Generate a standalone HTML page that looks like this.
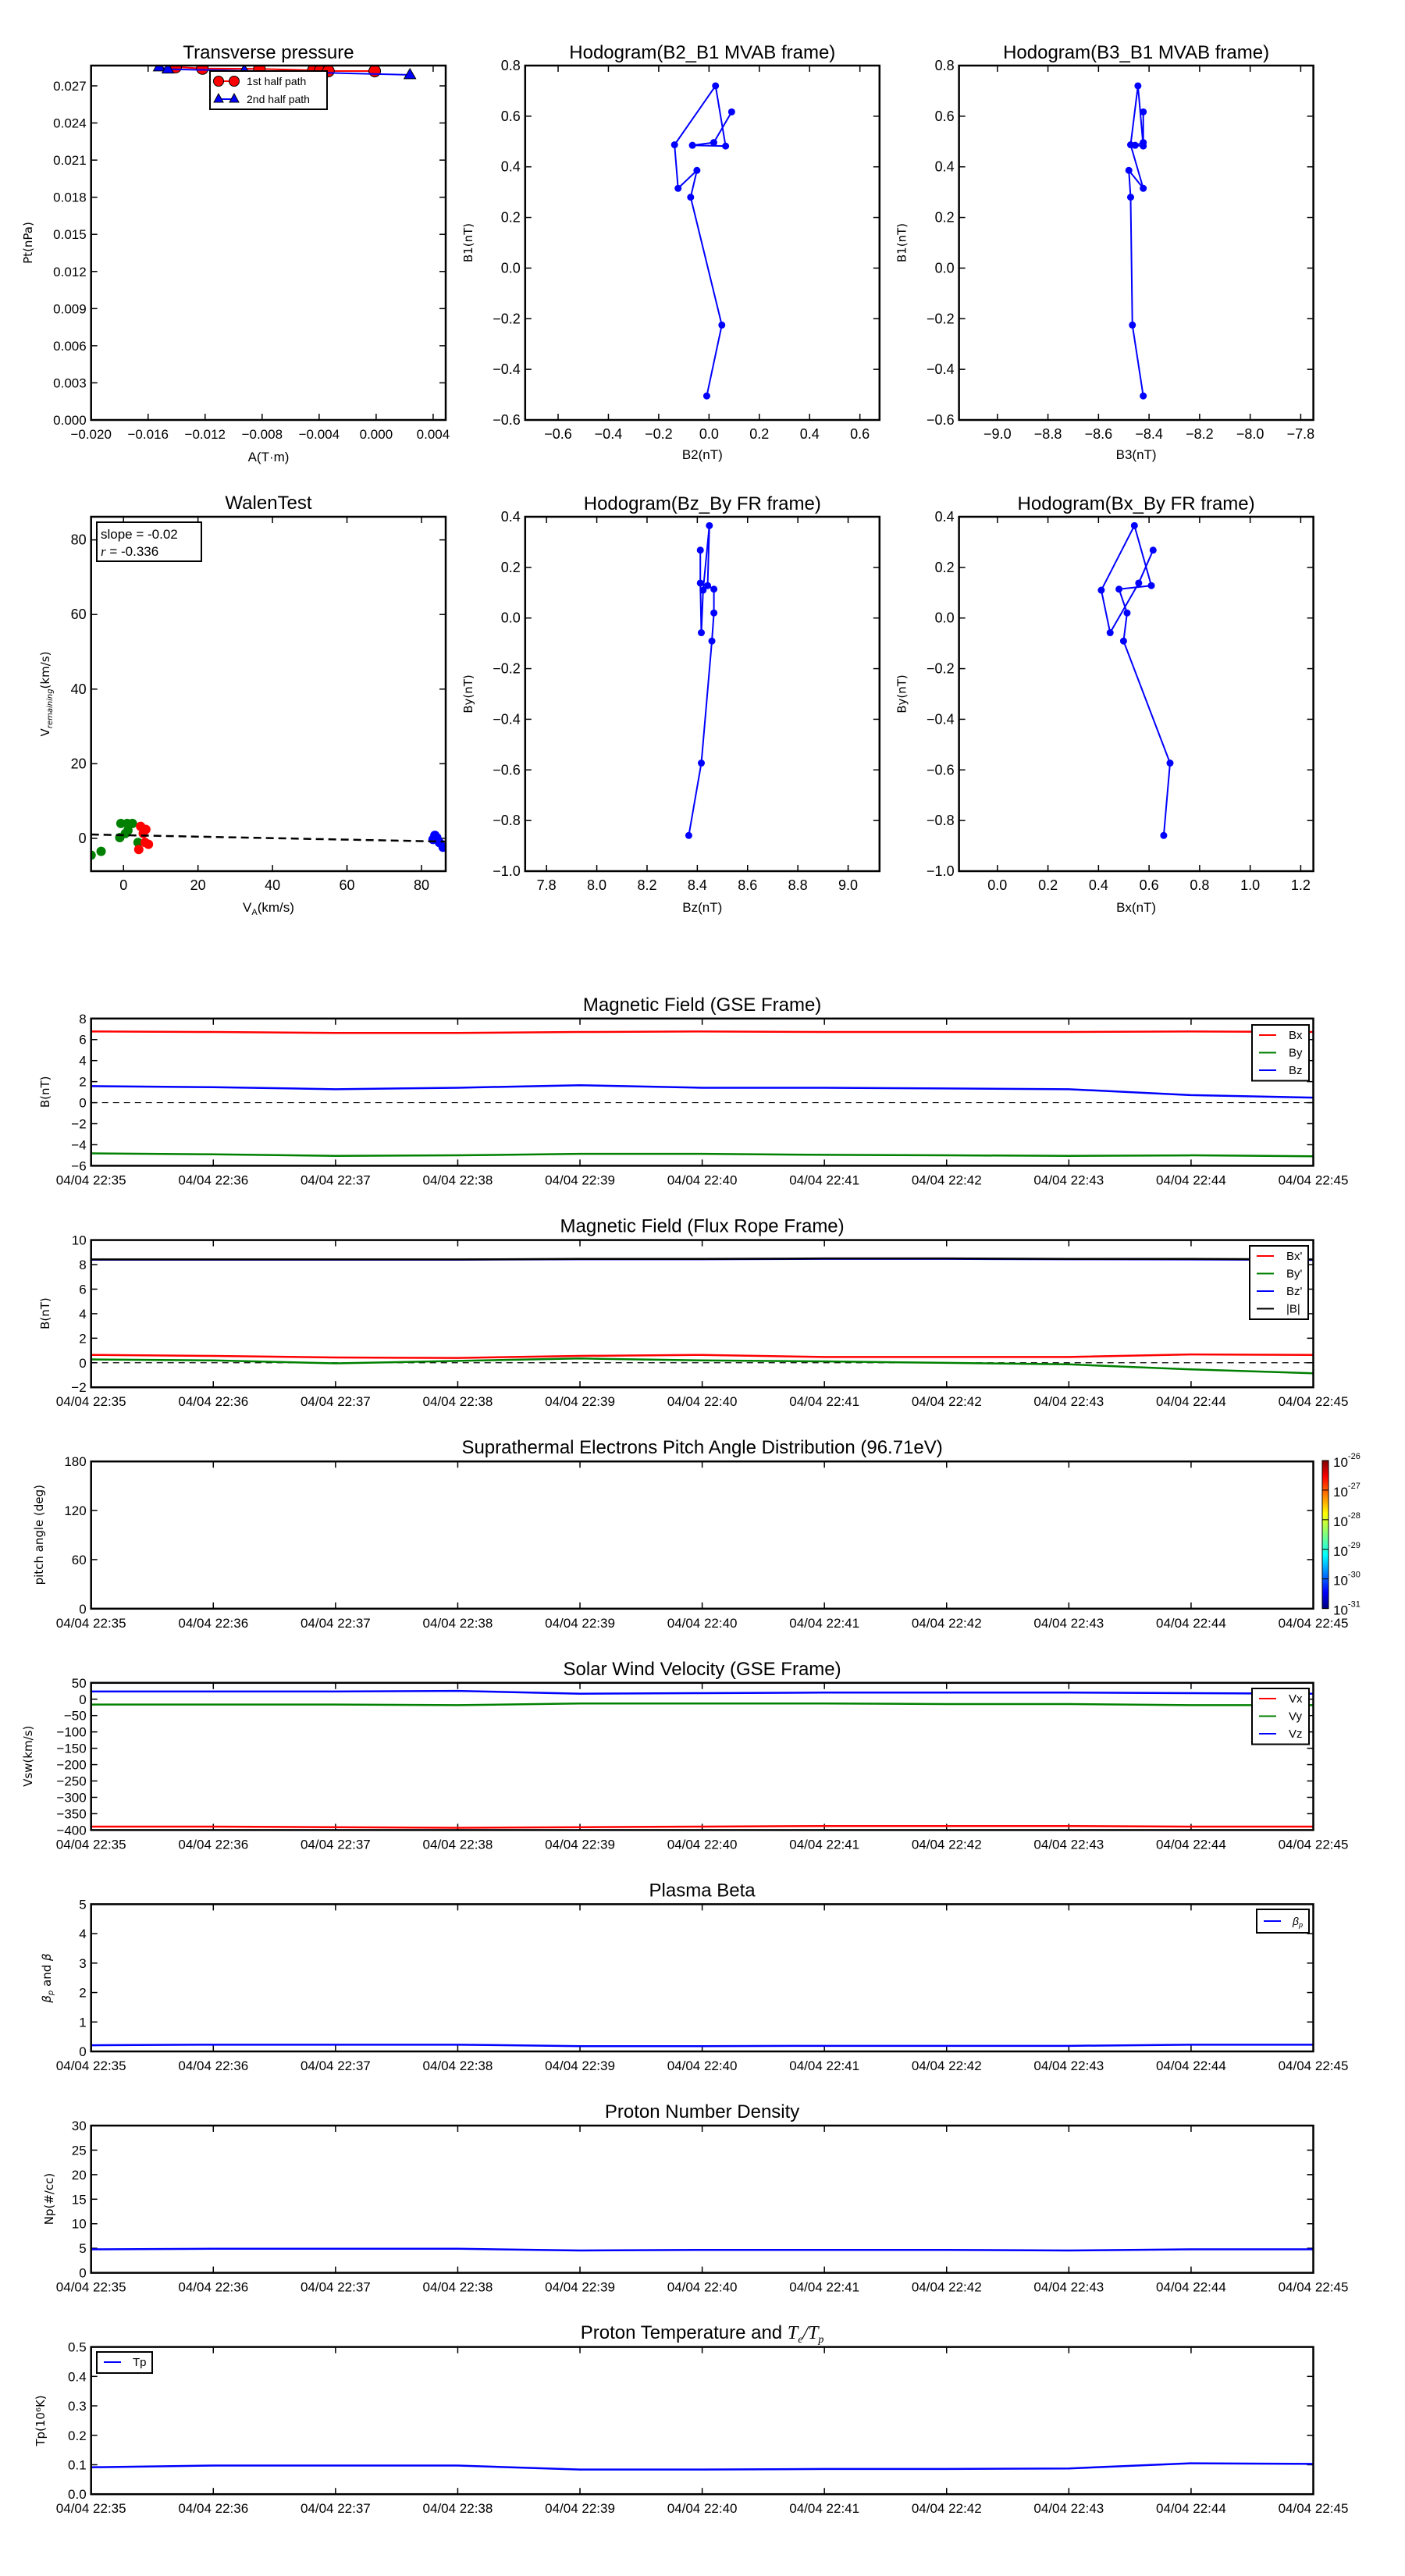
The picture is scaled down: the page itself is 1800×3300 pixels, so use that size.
<!DOCTYPE html>
<html><head><meta charset="utf-8">
<style>
html,body{margin:0;padding:0;background:#fff;}
svg{display:block;}
text{font-family:"Liberation Sans","DejaVu Sans",sans-serif;fill:#000;}
.yl{font-family:"DejaVu Sans","Liberation Sans",sans-serif;font-size:15px;}
</style></head>
<body>
<svg id="fig" width="1800" height="3300" viewBox="0 0 1800 3300" xmlns="http://www.w3.org/2000/svg">
<defs>
<linearGradient id="jet" x1="0" y1="1" x2="0" y2="0">
<stop offset="0" stop-color="#00007f"/><stop offset="0.11" stop-color="#0000ff"/><stop offset="0.36" stop-color="#00ffff"/><stop offset="0.5" stop-color="#7fff7f"/><stop offset="0.64" stop-color="#ffff00"/><stop offset="0.89" stop-color="#ff0000"/><stop offset="1" stop-color="#7f0000"/>
</linearGradient>
</defs>
</svg>
<script>
// ---------- data ----------
const tpRedA=[-0.01407,-0.01219,-0.00819,-0.00440,-0.00394,-0.00335,-0.00010];
const tpRedP=[0.02852,0.02840,0.02837,0.02826,0.02822,0.02820,0.02820];
const tpBlueA=[-0.01522,-0.01461,-0.00925,0.00237];
const tpBlueP=[0.02852,0.02835,0.02822,0.02789];

const mvB2=[-0.009,0.051,-0.073,-0.048,-0.123,-0.137,0.026,0.066,-0.066,0.019,0.090];
const mvB1=[-0.505,-0.225,0.280,0.386,0.315,0.487,0.720,0.482,0.485,0.496,0.617];
const mvB3=[-8.423,-8.466,-8.473,-8.480,-8.423,-8.473,-8.444,-8.423,-8.455,-8.423,-8.423];

const frBy=[-0.859,-0.573,-0.091,0.020,0.114,0.128,0.365,0.110,-0.058,0.138,0.268];
const frBx=[0.658,0.683,0.499,0.513,0.481,0.609,0.542,0.411,0.446,0.559,0.616];
const frBz=[8.366,8.416,8.458,8.466,8.466,8.441,8.448,8.423,8.416,8.412,8.412];

const walenGreenX=[-0.7,1.0,2.4,-1.0,0.5,1.2,-6.0,-8.7,3.9];
const walenGreenY=[4.0,4.0,4.0,0.2,1.3,2.1,-3.5,-4.5,-1.1];
const walenRedX=[4.6,6.0,5.3,6.7,4.1,5.8];
const walenRedY=[3.2,2.4,1.3,-1.6,-3.0,-1.1];
const walenBlueX=[83.6,84.1,84.8,85.8,83.1];
const walenBlueY=[0.8,0.2,-1.1,-2.4,-0.3];
const walenSlope=-0.02, walenIntercept=0.85;

const timeLabels=['04/04 22:35','04/04 22:36','04/04 22:37','04/04 22:38','04/04 22:39','04/04 22:40','04/04 22:41','04/04 22:42','04/04 22:43','04/04 22:44','04/04 22:45'];
const minutes=[0,1,2,3,4,5,6,7,8,9,10];
const gseBx=[6.77,6.72,6.63,6.63,6.72,6.77,6.72,6.72,6.72,6.77,6.72];
const gseBy=[-4.82,-4.91,-5.06,-5.01,-4.87,-4.87,-4.96,-5.01,-5.06,-5.01,-5.10];
const gseBz=[1.57,1.47,1.28,1.42,1.66,1.42,1.42,1.35,1.28,0.72,0.48];
const frTBx=[0.64,0.56,0.43,0.39,0.56,0.64,0.47,0.47,0.47,0.68,0.64];
const frTBy=[0.27,0.19,-0.05,0.15,0.35,0.19,0.11,-0.01,-0.13,-0.54,-0.86];
const frTBz=[8.40,8.40,8.40,8.40,8.44,8.44,8.47,8.47,8.44,8.42,8.38];
const frTBt=[8.42,8.42,8.42,8.42,8.46,8.46,8.50,8.50,8.46,8.46,8.42];
const swVx=[-389.5,-389.5,-391.3,-393.0,-391.3,-389.5,-387.7,-387.7,-387.7,-389.5,-389.5];
const swVy=[-16.5,-16.5,-16.5,-18.3,-13.0,-13.0,-13.0,-14.8,-14.8,-18.3,-18.3];
const swVz=[23.7,23.7,23.7,25.5,16.7,18.5,20.2,20.2,20.2,18.5,16.7];
const betaP=[0.21,0.23,0.23,0.23,0.18,0.18,0.19,0.19,0.19,0.23,0.23];
const npVals=[4.79,4.90,4.90,4.90,4.55,4.67,4.67,4.67,4.55,4.79,4.79];
const tpVals=[0.0914,0.0973,0.0973,0.0973,0.0837,0.0837,0.0856,0.0856,0.0875,0.105,0.103];
const cbarLabels=['-26','-27','-28','-29','-30','-31'];

// ---------- helpers ----------
const NS='http://www.w3.org/2000/svg';
const svg=document.getElementById('fig');
function mk(tag,attrs,name,parent){
  const e=document.createElementNS(NS,tag);
  for(const k in attrs) e.setAttribute(k,attrs[k]);
  
  
  (parent||svg).appendChild(e);
  return e;
}
function txt(x,y,s,size,anchor,name,extra){
  const a=Object.assign({x:x,y:y,'font-size':size,'text-anchor':anchor||'middle'},extra||{});
  const t=mk('text',a,name);
  t.textContent=s;
  return t;
}
function fmt(v,d){const s=Math.abs(v).toFixed(d);return (v<-1e-12?'\u2212':'')+s;}
function axes(o){
  const g=mk('g',{},o.name);
  const sx=v=>o.x+(v-o.xmin)/(o.xmax-o.xmin)*o.w;
  const sy=v=>o.y+o.h-(v-o.ymin)/(o.ymax-o.ymin)*o.h;
  o.sx=sx;o.sy=sy;o.g=g;
  const tl=8;
  o.xticks.forEach((v,i)=>{
    const px=sx(v);
    mk('line',{x1:px,y1:o.y+o.h,x2:px,y2:o.y+o.h-tl,stroke:'#000','stroke-width':1.5},'x-tick',g);
    mk('line',{x1:px,y1:o.y,x2:px,y2:o.y+tl,stroke:'#000','stroke-width':1.5},'x-tick-top',g);
    const t=txt(px,o.y+o.h+24,o.xlab[i],o.fs||18,'middle','x-tick-label');
  });
  o.yticks.forEach((v,i)=>{
    const py=sy(v);
    mk('line',{x1:o.x,y1:py,x2:o.x+tl,y2:py,stroke:'#000','stroke-width':1.5},'y-tick',g);
    mk('line',{x1:o.x+o.w,y1:py,x2:o.x+o.w-tl,y2:py,stroke:'#000','stroke-width':1.5},'y-tick-right',g);
    txt(o.x-6,py+6,o.ylab[i],o.fs||18,'end','y-tick-label');
  });
  return o;
}
function frame(o){mk('rect',{x:o.x,y:o.y,width:o.w,height:o.h,fill:'none',stroke:'#000','stroke-width':2.5},'axes-frame');}
function clip(o,id){
  const cp=mk('clipPath',{id:id},'clip');
  mk('rect',{x:o.x,y:o.y,width:o.w,height:o.h},'clip-rect',cp);
  return 'url(#'+id+')';
}
function poly(o,xs,ys,color,w,name,cl){
  const pts=xs.map((x,i)=>o.sx(x).toFixed(2)+','+o.sy(ys[i]).toFixed(2)).join(' ');
  return mk('polyline',{points:pts,fill:'none',stroke:color,'stroke-width':w,'stroke-linejoin':'round','clip-path':cl||''},name);
}
function dots(o,xs,ys,color,r,name,cl){
  xs.forEach((x,i)=>{mk('circle',{cx:o.sx(x),cy:o.sy(ys[i]),r:r,fill:color,'clip-path':cl||''},name);});
}
function range(a,b,s){const r=[];for(let v=a;v<=b+1e-9;v+=s)r.push(+v.toFixed(6));return r;}
function ylabel(x,y,s,name){const t=mk('text',{x:x,y:y,'font-size':15,'text-anchor':'middle',class:'yl',transform:'rotate(-90 '+x+' '+y+')'},name);t.textContent=s;return t;}

// ---------- Transverse pressure ----------
(function(){
  const xt=range(-0.020,0.004,0.004), yt=range(0,0.027,0.003);
  const o=axes({name:'transverse-pressure-plot',x:116.7,y:84,w:454.3,h:454,xmin:-0.020,xmax:0.00488,ymin:0,ymax:0.02864,
    xticks:xt,xlab:xt.map(v=>fmt(v,3)),yticks:yt,ylab:yt.map(v=>fmt(v,3)),fs:17});
  const cl=clip(o,'c1');
  poly(o,tpRedA,tpRedP,'#ff0000',2,'first-half-path-line',cl);
  tpRedA.forEach((a,i)=>mk('circle',{cx:o.sx(a),cy:o.sy(tpRedP[i]),r:7.5,fill:'#ff0000',stroke:'#000','stroke-width':1,'clip-path':cl},'first-half-marker'));
  poly(o,tpBlueA,tpBlueP,'#0000ff',2,'second-half-path-line',cl);
  tpBlueA.forEach((a,i)=>{const x=o.sx(a),y=o.sy(tpBlueP[i]);mk('polygon',{points:(x)+','+(y-8)+' '+(x-7.5)+','+(y+5)+' '+(x+7.5)+','+(y+5),fill:'#0000ff',stroke:'#000','stroke-width':1,'clip-path':cl},'second-half-marker');});
  frame(o);
  txt(344,75,'Transverse pressure',24,'middle','transverse-pressure-title');
  txt(344,591,'A(T\u00b7m)',17,'middle','x-axis-title');
  ylabel(41,311,'Pt(nPa)','y-axis-title');
  const lg=mk('g',{},'legend');
  mk('rect',{x:269,y:91,width:150,height:49,fill:'#fff',stroke:'#000','stroke-width':2},'legend-box',lg);
  mk('line',{x1:280,y1:104,x2:300,y2:104,stroke:'#ff0000','stroke-width':2},'legend-line',lg);
  mk('circle',{cx:280,cy:104,r:6.5,fill:'#ff0000',stroke:'#000'},'legend-marker',lg);
  mk('circle',{cx:300,cy:104,r:6.5,fill:'#ff0000',stroke:'#000'},'legend-marker',lg);
  txt(316,109,'1st half path',14,'start','legend-entry-1st');
  mk('line',{x1:280,y1:127,x2:300,y2:127,stroke:'#0000ff','stroke-width':2},'legend-line',lg);
  mk('polygon',{points:'280,120 274,131 286,131',fill:'#0000ff',stroke:'#000'},'legend-marker',lg);
  mk('polygon',{points:'300,120 294,131 306,131',fill:'#0000ff',stroke:'#000'},'legend-marker',lg);
  txt(316,132,'2nd half path',14,'start','legend-entry-2nd');
})();

// ---------- Hodograms ----------
function hodo(name,x0,y0,xmin,xmax,ymin,ymax,xt,yt,xs,ys,title,xl,yl,id,yTitleY,xTitleY){
  const o=axes({name:name,x:x0,y:y0,w:454,h:454,xmin:xmin,xmax:xmax,ymin:ymin,ymax:ymax,
    xticks:xt,xlab:xt.map(v=>fmt(v,1)),yticks:yt,ylab:yt.map(v=>fmt(v,1))});
  const cl=clip(o,id);
  poly(o,xs,ys,'#0000ff',2,'hodogram-path',cl);
  dots(o,xs,ys,'#0000ff',4.5,'hodogram-point',cl);
  frame(o);
  txt(x0+227,y0-9,title,24,'middle','plot-title');
  txt(x0+227,xTitleY,xl,17,'middle','x-axis-title');
  ylabel(x0-68,y0+227,yl,'y-axis-title');
}
const t02=range(-0.6,0.6,0.2), b1t=range(-0.6,0.8,0.2);
hodo('hodogram-b2-b1',672.8,84,-0.731,0.678,-0.6,0.8,t02,b1t,mvB2,mvB1,'Hodogram(B2_B1 MVAB frame)','B2(nT)','B1(nT)','c2',0,588);
hodo('hodogram-b3-b1',1228.6,84,-9.152,-7.75,-0.6,0.8,range(-9.0,-7.8,0.2),b1t,mvB3,mvB1,'Hodogram(B3_B1 MVAB frame)','B3(nT)','B1(nT)','c3',0,588);
const byt=range(-1.0,0.4,0.2);
hodo('hodogram-bz-by',672.8,662,7.715,9.125,-1.0,0.4,range(7.8,9.0,0.2),byt,frBz,frBy,'Hodogram(Bz_By FR frame)','Bz(nT)','By(nT)','c4',0,1168);
hodo('hodogram-bx-by',1228.6,662,-0.152,1.25,-1.0,0.4,range(0,1.2,0.2),byt,frBx,frBy,'Hodogram(Bx_By FR frame)','Bx(nT)','By(nT)','c5',0,1168);

// ---------- Walen test ----------
(function(){
  const t=[0,20,40,60,80];
  const o=axes({name:'walen-test-plot',x:116.7,y:662,w:454.3,h:454,xmin:-8.7,xmax:86.5,ymin:-8.8,ymax:86.2,
    xticks:t,xlab:t.map(String),yticks:t,ylab:t.map(String)});
  const cl=clip(o,'c6');
  dots(o,walenGreenX,walenGreenY,'#008000',6,'walen-point-green',cl);
  dots(o,walenRedX,walenRedY,'#ff0000',6,'walen-point-red',cl);
  dots(o,walenBlueX,walenBlueY,'#0000ff',6,'walen-point-blue',cl);
  const fx=[o.xmin,o.xmax];
  poly(o,fx,fx.map(v=>walenSlope*v+walenIntercept),'#000',2.5,'fit-line',cl).setAttribute('stroke-dasharray','10,6');
  frame(o);
  txt(344,652,'WalenTest',24,'middle','walen-title');
  const vx=mk('text',{x:344,y:1168,'font-size':17,'text-anchor':'middle'},'x-axis-title');vx.innerHTML='V<tspan font-size="11" dy="4">A</tspan><tspan dy="-4">(km/s)</tspan>';
  const vy=mk('text',{x:63,y:889,'font-size':15,'text-anchor':'middle',class:'yl',transform:'rotate(-90 63 889)'},'y-axis-title');vy.innerHTML='V<tspan font-size="10" dy="4" font-style="italic">remaining</tspan><tspan dy="-4">(km/s)</tspan>';
  mk('rect',{x:124,y:669,width:134,height:50,fill:'#fff',stroke:'#000','stroke-width':2},'walen-legend-box');
  txt(129,690,'slope = -0.02',17,'start','slope-label');
  const r=mk('text',{x:129,y:712,'font-size':17},'r-label');r.innerHTML='<tspan font-style="italic" font-family="Liberation Serif">r</tspan> = -0.336';
})();

// ---------- Time series ----------
function ts(name,top,ymin,ymax,yt,ylabFn,title,ylab,ylabX,id){
  const o=axes({name:name,x:116.7,y:top,w:1565.8,h:188.6,xmin:0,xmax:10,ymin:ymin,ymax:ymax,
    xticks:minutes,xlab:timeLabels,yticks:yt,ylab:yt.map(ylabFn),fs:17});
  o.cl=clip(o,id);
  txt(899.6,top-10,title,24,'middle','plot-title');
  if(ylab) ylabel(ylabX,top+94,ylab,'y-axis-title');
  return o;
}
function legend(x,y,w,entries,name){
  const g=mk('g',{},name);
  mk('rect',{x:x,y:y,width:w,height:entries.length*22.5+4,fill:'#fff',stroke:'#000','stroke-width':2},'legend-box',g);
  entries.forEach((e,i)=>{
    const cy=y+13+i*22.5;
    mk('line',{x1:x+9,y1:cy,x2:x+31,y2:cy,stroke:e[1],'stroke-width':2},'legend-line',g);
    txt(x+47,cy+5,e[0],15,'start','legend-entry');
  });
}
(function(){
  const o=ts('gse-field-plot',1304.8,-6,8,range(-6,8,2),v=>fmt(v,0),'Magnetic Field (GSE Frame)','B(nT)',63,'t1');
  poly(o,[0,10],[0,0],'#000',1.2,'zero-line',o.cl).setAttribute('stroke-dasharray','8,6');
  poly(o,minutes,gseBx,'#ff0000',2.5,'bx-line',o.cl);
  poly(o,minutes,gseBy,'#008000',2.5,'by-line',o.cl);
  poly(o,minutes,gseBz,'#0000ff',2.5,'bz-line',o.cl);
  frame(o);
  legend(1604,1313,73,[['Bx','#ff0000'],['By','#008000'],['Bz','#0000ff']],'gse-legend');
})();
(function(){
  const o=ts('flux-rope-field-plot',1588.6,-2,10,range(-2,10,2),v=>fmt(v,0),'Magnetic Field (Flux Rope Frame)','B(nT)',63,'t2');
  poly(o,[0,10],[0,0],'#000',1.2,'zero-line',o.cl).setAttribute('stroke-dasharray','8,6');
  poly(o,minutes,frTBx,'#ff0000',2.5,'bx-prime-line',o.cl);
  poly(o,minutes,frTBy,'#008000',2.5,'by-prime-line',o.cl);
  poly(o,minutes,frTBz,'#0000ff',2.5,'bz-prime-line',o.cl);
  poly(o,minutes,frTBt,'#000',2.5,'b-total-line',o.cl);
  frame(o);
  legend(1601,1596,75,[["Bx'",'#ff0000'],["By'",'#008000'],["Bz'",'#0000ff'],['|B|','#000']],'flux-rope-legend');
})();
(function(){
  const o=ts('pitch-angle-plot',1872.2,0,180,[0,60,120,180],v=>String(v),'Suprathermal Electrons Pitch Angle Distribution (96.71eV)','pitch angle (deg)',55,'t3');
  frame(o);
  mk('rect',{x:1694,y:1871,width:8,height:189.6,fill:'url(#jet)',stroke:'#000','stroke-width':1},'colorbar');
  cbarLabels.forEach((s,i)=>{
    const y=1871+i*189.6/5;
    mk('line',{x1:1694,y1:y,x2:1702,y2:y,stroke:'#000','stroke-width':1},'colorbar-tick');
    const t=mk('text',{x:1708,y:y+8,'font-size':17},'colorbar-label');t.innerHTML='10<tspan font-size="11" dy="-10">'+s+'</tspan>';
  });
})();
(function(){
  const o=ts('solar-wind-velocity-plot',2155.8,-400,50,range(-400,50,50),v=>fmt(v,0),'Solar Wind Velocity (GSE Frame)','Vsw(km/s)',41,'t4');
  poly(o,minutes,swVx,'#ff0000',2.5,'vx-line',o.cl);
  poly(o,minutes,swVy,'#008000',2.5,'vy-line',o.cl);
  poly(o,minutes,swVz,'#0000ff',2.5,'vz-line',o.cl);
  frame(o);
  legend(1604,2163,73,[['Vx','#ff0000'],['Vy','#008000'],['Vz','#0000ff']],'velocity-legend');
})();
(function(){
  const o=ts('plasma-beta-plot',2439.4,0,5,range(0,5,1),v=>String(v),'Plasma Beta','',0,'t5');
  poly(o,minutes,betaP,'#0000ff',2.5,'beta-p-line',o.cl);
  frame(o);
  const yl=mk('text',{x:65,y:2534,'font-size':15,'text-anchor':'middle',class:'yl',fill:'#555',transform:'rotate(-90 65 2534)'},'y-axis-title');yl.innerHTML='<tspan font-style="italic">\u03b2<tspan font-size="10" dy="3">p</tspan></tspan><tspan dy="-3"> and </tspan><tspan font-style="italic">\u03b2</tspan>';
  mk('rect',{x:1610,y:2446,width:67,height:30,fill:'#fff',stroke:'#000','stroke-width':2},'beta-legend-box');
  mk('line',{x1:1619,y1:2461,x2:1641,y2:2461,stroke:'#0000ff','stroke-width':2},'legend-line');
  const lt=mk('text',{x:1656,y:2466,'font-size':14,'font-style':'italic',fill:'#555'},'legend-entry');lt.innerHTML='\u03b2<tspan font-size="9" dy="3">p</tspan>';
})();
(function(){
  const o=ts('proton-density-plot',2723,0,30,range(0,30,5),v=>String(v),'Proton Number Density','Np(#/cc)',68,'t6');
  poly(o,minutes,npVals,'#0000ff',2.5,'np-line',o.cl);
  frame(o);
})();
(function(){
  const o=ts('proton-temperature-plot',3006.6,0,0.5,range(0,0.5,0.1),v=>v.toFixed(1),'','',0,'t7');
  poly(o,minutes,tpVals,'#0000ff',2.5,'tp-line',o.cl);
  frame(o);
  const tt=mk('text',{x:899.6,y:2996,'font-size':24,'text-anchor':'middle'},'plot-title');tt.innerHTML='Proton Temperature and <tspan font-family="Liberation Serif" font-style="italic">T<tspan font-size="14" dy="5">e</tspan><tspan dy="-5">/T</tspan><tspan font-size="14" dy="5">p</tspan></tspan>';
  ylabel(57,3101,'Tp(10\u2076K)','y-axis-title');
  mk('rect',{x:124,y:3013,width:71,height:27,fill:'#fff',stroke:'#000','stroke-width':2},'tp-legend-box');
  mk('line',{x1:133,y1:3026,x2:155,y2:3026,stroke:'#0000ff','stroke-width':2},'legend-line');
  txt(170,3031,'Tp',15,'start','legend-entry');
})();
</script>
</body></html>
